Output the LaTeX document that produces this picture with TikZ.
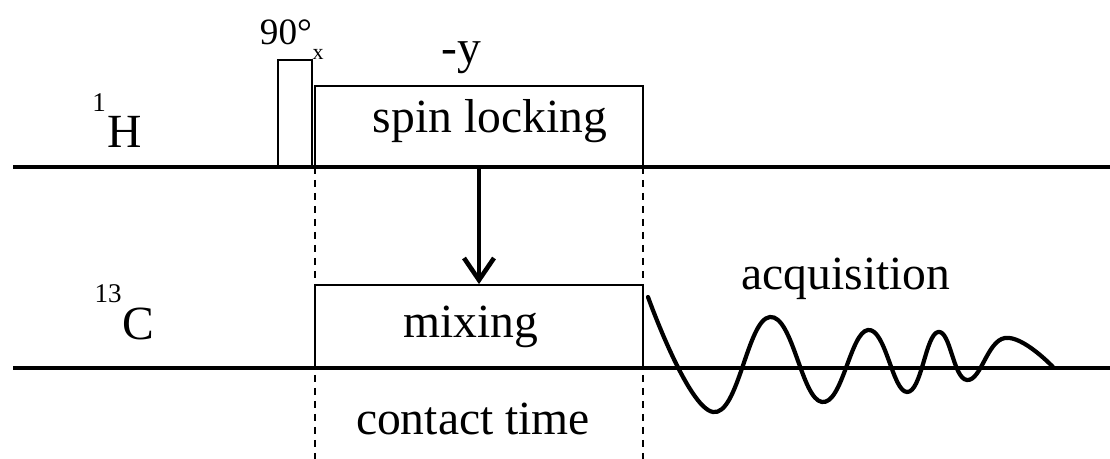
\documentclass[tikz,border=0pt]{standalone}
\usepackage{fontspec}
\setmainfont{Liberation Serif}
\usetikzlibrary{arrows.meta,positioning}

\begin{document}
\begin{tikzpicture}[x=0.5pt,y=-0.5pt,every node/.style={font=\fontsize{23.8}{28}\selectfont,inner sep=0pt},
  pulsebox/.style={draw,rectangle,line width=0.9pt},
  channel/.style={line width=2pt},
  timing/.style={line width=0.6pt,dash pattern=on 3.5pt off 3pt},
  small/.style={font=\fontsize{13.5}{15}\selectfont}]
\useasboundingbox (0,0) rectangle (1110,459);
% pulses
\node[pulsebox,minimum width=17pt,minimum height=53.5pt] (pulse90) at (295,113.5) {};
\node[pulsebox,minimum width=164pt,minimum height=40.5pt] (spin) at (479,126.5) {};
\node[pulsebox,minimum width=164pt,minimum height=41.5pt] (mix) at (479,326.5) {};
% channels
\draw[channel] (13,167) -- (1110,167);
\draw[channel] (13,368) -- (1110,368);
\draw[timing] (315,167) -- (315,459);
\draw[timing] (643,167) -- (643,459);
% texts
\node[anchor=base] (hlabel) at (125,148) {H};
\node[small,anchor=base] (hmass) at (99,112) {1};
\node[anchor=base] (clabel) at (138,340) {C};
\node[small,anchor=base] (cmass) at (108,303) {13};
\node[anchor=base,font=\fontsize{18.6}{22}\selectfont] (angle) at (286,45) {90°};
\node[anchor=base,font=\fontsize{11}{13}\selectfont] (phasex) at (318,60) {x};
\node[anchor=base] (phasey) at (461,64) {-y};
\node[anchor=base] (spintext) at (490,133) {spin locking};
\node[anchor=base] (mixtext) at (471,338) {mixing};
\node[anchor=base] (contact) at (473,435) {contact time};
\node[anchor=base] (acq) at (846,290) {acquisition};
% transfer
\draw[-{Straight Barb[length=11pt,width=15pt]}, line width=2.3pt] (spin.south) -- (mix.north);
% fid
\draw[line width=2.1pt,line cap=round,line join=round] plot[smooth,tension=0.75] coordinates {(648,297) (713,412) (770,317) (822,402) (868,330) (907,392) (938,332) (967,380) (1005,338) (1053,367)};
\end{tikzpicture}
\end{document}
